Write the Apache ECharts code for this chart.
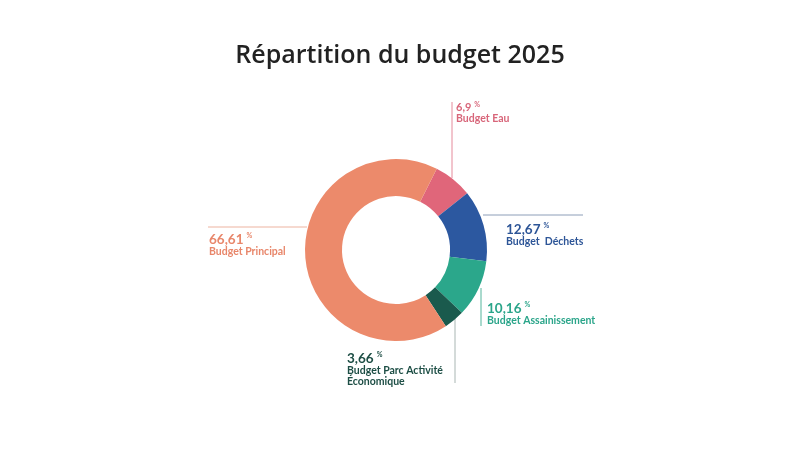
<!DOCTYPE html>
<html>
<head>
<meta charset="utf-8">
<script src="https://cdn.jsdelivr.net/npm/echarts@6/dist/echarts.min.js"></script>
<style>
html,body{margin:0;padding:0;background:#fff;}
#chart{width:800px;height:450px;}
</style>
</head>
<body>
<div id="chart"></div>
<script>
// ---- data ----
const categories = ['Budget Eau', 'Budget  Déchets', 'Budget Assainissement', 'Budget Parc Activité\nÉconomique', 'Budget Principal'];
const values = [6.9, 12.67, 10.16, 3.66, 66.61];
const valueLabels = ['6,9', '12,67', '10,16', '3,66', '66,61'];

// ---- styles ----
const sliceColors = ['#E0667A', '#2C58A0', '#2BA78B', '#1A5A4D', '#EC8A6B'];
const textColors = ['#D8667A', '#2D5597', '#2BA58A', '#1D4E45', '#E8866A'];
const lineColors = ['#E58A9B', '#8D9EB8', '#55B59C', '#A9B6B3', '#EDB3A0'];
const valueSizes = [11, 13.5, 13.5, 13.5, 13.5];

// label placement (pixels): text anchor and leader polyline
const labelPos = [
  {x: 456, y: 101, line: [[452, 178], [452, 102], [452, 102]]},
  {x: 506, y: 222, line: [[483, 215], [583, 215], [583, 215]]},
  {x: 487, y: 301, line: [[481, 288], [481, 326], [481, 326]]},
  {x: 347, y: 351, line: [[455, 316], [455, 383], [455, 383]]},
  {x: 209, y: 232, line: [[307, 227], [208, 227], [208, 227]]}
];

const chart = echarts.init(document.getElementById('chart'), null, {renderer: 'canvas'});
const font = 'Lato, "Noto Sans", sans-serif';

const seriesData = categories.map((name, i) => {
  const nameLines = name.split('\n').map(s => '{n' + i + '|' + s + '}').join('\n');
  const rich = {};
  rich['v' + i] = {fontSize: valueSizes[i], fontWeight: 'bold', color: textColors[i], fontFamily: font, lineHeight: valueSizes[i] + 1};
  rich['p' + i] = {fontSize: 7, fontWeight: 'bold', color: textColors[i], fontFamily: font, verticalAlign: 'top', padding: [0, 0, 4, 3]};
  rich['n' + i] = {fontSize: 10.5, fontWeight: 'bold', color: textColors[i], fontFamily: font, lineHeight: 11};
  return {
    name: name,
    value: values[i],
    itemStyle: {color: sliceColors[i]},
    label: {
      formatter: '{v' + i + '|' + valueLabels[i] + '}{p' + i + '|%}\n' + nameLines,
      rich: rich
    },
    labelLine: {lineStyle: {color: lineColors[i], width: 1}}
  };
});

chart.setOption({
  animation: false,
  backgroundColor: '#fff',
  title: {
    text: 'Répartition du budget 2025',
    left: 'center',
    top: 38,
    textStyle: {fontFamily: '"Open Sans", Lato, sans-serif', fontSize: 25, fontWeight: 600, color: '#222'}
  },
  series: [{
    type: 'pie',
    center: [396, 250],
    radius: [54, 91],
    startAngle: 63.4,
    clockwise: true,
    avoidLabelOverlap: false,
    silent: true,
    emphasis: {disabled: true},
    label: {show: true, position: 'outside', align: 'left'},
    labelLine: {show: true, length: 10, length2: 10, smooth: false},
    labelLayout: function (params) {
      const p = labelPos[params.dataIndex];
      return {
        x: p.x, y: p.y, align: 'left', verticalAlign: 'top',
        hideOverlap: false, moveOverlap: false,
        labelLinePoints: p.line
      };
    },
    data: seriesData
  }]
});
</script>
</body>
</html>
